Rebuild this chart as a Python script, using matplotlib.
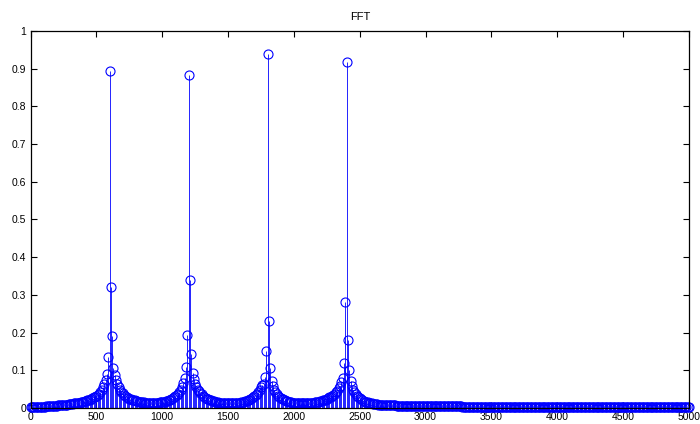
import numpy as np
import matplotlib
matplotlib.use("Agg")
import matplotlib.pyplot as plt

# FFT magnitude, one bin every 10 Hz from 0 to 5000 Hz
bin_step = 10

mag_0000 = [
    0.004, 0.003, 0.003, 0.003, 0.003, 0.004, 0.004, 0.004, 0.004, 0.004,
    0.004, 0.004, 0.005, 0.005, 0.005, 0.005, 0.005, 0.006, 0.006, 0.006,
    0.006, 0.007, 0.007, 0.007, 0.008, 0.008, 0.008, 0.009, 0.009, 0.010,
    0.010, 0.011, 0.011, 0.012, 0.012, 0.013, 0.014, 0.014, 0.015, 0.016,
    0.017, 0.018, 0.019, 0.020, 0.021, 0.022, 0.024, 0.026, 0.028, 0.030,
    0.031, 0.034, 0.038, 0.043, 0.049, 0.056, 0.064, 0.074, 0.090, 0.135,
    0.893, 0.322, 0.190, 0.105, 0.087, 0.074, 0.063, 0.055, 0.048, 0.043,
    0.039, 0.035, 0.032, 0.029, 0.027, 0.025, 0.023, 0.022, 0.021, 0.020,
    0.019, 0.018, 0.017, 0.016, 0.016, 0.015, 0.015, 0.014, 0.014, 0.014,
    0.013, 0.013, 0.013, 0.013, 0.013, 0.014, 0.014, 0.014, 0.015, 0.015,
]
mag_1000 = [
    0.016, 0.017, 0.017, 0.018, 0.019, 0.020, 0.022, 0.024, 0.026, 0.028,
    0.031, 0.034, 0.038, 0.043, 0.049, 0.057, 0.066, 0.080, 0.110, 0.193,
    0.882, 0.340, 0.143, 0.092, 0.076, 0.064, 0.056, 0.049, 0.044, 0.040,
    0.036, 0.033, 0.030, 0.027, 0.025, 0.023, 0.021, 0.020, 0.019, 0.018,
    0.017, 0.016, 0.015, 0.014, 0.014, 0.013, 0.013, 0.012, 0.012, 0.012,
    0.012, 0.012, 0.012, 0.012, 0.012, 0.013, 0.013, 0.013, 0.014, 0.014,
    0.015, 0.016, 0.017, 0.018, 0.019, 0.020, 0.022, 0.024, 0.026, 0.028,
    0.031, 0.034, 0.038, 0.043, 0.049, 0.056, 0.060, 0.065, 0.082, 0.150,
    0.938, 0.232, 0.105, 0.072, 0.058, 0.049, 0.042, 0.037, 0.033, 0.030,
    0.027, 0.025, 0.023, 0.021, 0.019, 0.018, 0.017, 0.016, 0.015, 0.014,
]
mag_2000 = [
    0.014, 0.013, 0.013, 0.012, 0.012, 0.012, 0.012, 0.012, 0.012, 0.012,
    0.012, 0.012, 0.012, 0.013, 0.013, 0.014, 0.015, 0.015, 0.016, 0.017,
    0.018, 0.019, 0.020, 0.021, 0.022, 0.024, 0.026, 0.028, 0.030, 0.032,
    0.035, 0.038, 0.042, 0.046, 0.052, 0.059, 0.068, 0.080, 0.120, 0.281,
    0.918, 0.180, 0.100, 0.072, 0.058, 0.049, 0.042, 0.037, 0.032, 0.029,
    0.026, 0.023, 0.021, 0.019, 0.017, 0.016, 0.015, 0.014, 0.013, 0.012,
    0.011, 0.011, 0.010, 0.010, 0.009, 0.009, 0.009, 0.008, 0.008, 0.008,
    0.008, 0.008, 0.007, 0.007, 0.007, 0.007, 0.007, 0.007, 0.006, 0.006,
    0.006, 0.006, 0.006, 0.006, 0.006, 0.006, 0.006, 0.006, 0.006, 0.005,
    0.005, 0.005, 0.005, 0.005, 0.005, 0.005, 0.005, 0.005, 0.005, 0.005,
]
mag_3000 = [
    0.005, 0.005, 0.005, 0.005, 0.005, 0.005, 0.005, 0.005, 0.005, 0.005,
    0.005, 0.005, 0.005, 0.005, 0.005, 0.005, 0.005, 0.005, 0.005, 0.005,
    0.005, 0.005, 0.005, 0.005, 0.005, 0.005, 0.005, 0.005, 0.004, 0.004,
    0.004, 0.004, 0.004, 0.004, 0.004, 0.004, 0.004, 0.004, 0.004, 0.004,
    0.004, 0.004, 0.004, 0.004, 0.004, 0.004, 0.004, 0.004, 0.004, 0.004,
    0.004, 0.004, 0.004, 0.004, 0.004, 0.004, 0.004, 0.004, 0.004, 0.004,
    0.004, 0.004, 0.004, 0.004, 0.004, 0.004, 0.004, 0.004, 0.004, 0.004,
    0.004, 0.004, 0.004, 0.004, 0.004, 0.004, 0.004, 0.004, 0.004, 0.004,
    0.004, 0.004, 0.004, 0.004, 0.004, 0.004, 0.004, 0.004, 0.004, 0.004,
    0.004, 0.004, 0.004, 0.004, 0.004, 0.004, 0.004, 0.004, 0.004, 0.004,
]
mag_4000 = [
    0.004, 0.004, 0.004, 0.004, 0.004, 0.004, 0.004, 0.004, 0.004, 0.004,
    0.004, 0.004, 0.004, 0.004, 0.004, 0.004, 0.004, 0.004, 0.004, 0.004,
    0.004, 0.004, 0.004, 0.004, 0.004, 0.004, 0.004, 0.004, 0.004, 0.004,
    0.004, 0.004, 0.004, 0.004, 0.004, 0.004, 0.004, 0.004, 0.004, 0.004,
    0.004, 0.004, 0.004, 0.004, 0.004, 0.004, 0.004, 0.004, 0.004, 0.004,
    0.004, 0.004, 0.004, 0.004, 0.004, 0.004, 0.004, 0.004, 0.004, 0.004,
    0.004, 0.004, 0.004, 0.004, 0.004, 0.004, 0.004, 0.004, 0.004, 0.004,
    0.002, 0.002, 0.002, 0.002, 0.002, 0.002, 0.002, 0.002, 0.002, 0.002,
    0.002, 0.002, 0.002, 0.002, 0.002, 0.002, 0.002, 0.002, 0.002, 0.002,
    0.002, 0.002, 0.002, 0.002, 0.002, 0.002, 0.002, 0.002, 0.002, 0.002,
    0.002,
]

x_ticks = [0, 500, 1000, 1500, 2000, 2500, 3000, 3500, 4000, 4500, 5000]
y_ticks = [0, 0.1, 0.2, 0.3, 0.4, 0.5, 0.6, 0.7, 0.8, 0.9, 1]
y_tick_labels = ["0", "0.1", "0.2", "0.3", "0.4", "0.5", "0.6", "0.7", "0.8", "0.9", "1"]

mag = np.array(mag_0000 + mag_1000 + mag_2000 + mag_3000 + mag_4000)
freq = np.arange(len(mag)) * bin_step

plt.rcParams['font.family'] = ['Liberation Sans', 'DejaVu Sans']

fig = plt.figure(figsize=(7.0, 4.24), dpi=100)
ax = fig.add_axes([0.0436, 0.0377, 0.9407, 0.8893])

markers, stems, base = ax.stem(freq, mag, linefmt='-', markerfmt='o', basefmt='-')
plt.setp(stems, color='#0000ff', linewidth=0.6)
plt.setp(markers, color='#0000ff', markerfacecolor='none', markersize=6.5,
         markeredgewidth=0.8, clip_on=False)
plt.setp(base, color='#0000ff', linewidth=0.6)

ax.set_xlim(0, 5000)
ax.set_ylim(0, 1)
ax.set_xticks(x_ticks)
ax.set_xticklabels([str(t) for t in x_ticks])
ax.set_yticks(y_ticks)
ax.set_yticklabels(y_tick_labels)
ax.tick_params(direction='in', length=4.5, width=0.8, labelsize=7.5,
               top=True, right=True, pad=3)
for s in ax.spines.values():
    s.set_linewidth(0.9)
ax.set_title('FFT', fontsize=8, pad=8)

fig.savefig('out.png', dpi=100)
